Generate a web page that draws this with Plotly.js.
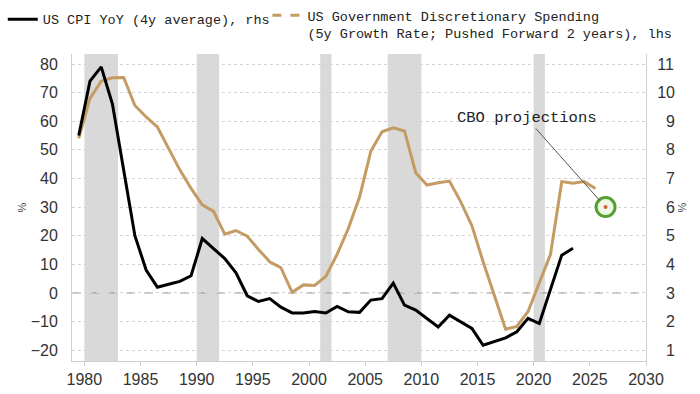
<!DOCTYPE html>
<html>
<head>
<meta charset="utf-8">
<script src="https://cdn.plot.ly/plotly-3.0.1.min.js"></script>
<style>html,body{margin:0;padding:0;background:#fff;}#chart{width:700px;height:394px;}</style>
</head>
<body>
<div id="chart"></div>
<script>
// ---- data ----
const cpiYears = [1979.5,1980.5,1981.5,1982.5,1983.5,1984.5,1985.5,1986.5,1987.5,1988.5,1989.5,
  1990.5,1991.5,1992.5,1993.5,1994.5,1995.5,1996.5,1997.5,1998.5,1999.5,
  2000.5,2001.5,2002.5,2003.5,2004.5,2005.5,2006.5,2007.5,2008.5,2009.5,
  2010.5,2011.5,2012.5,2013.5,2014.5,2015.5,2016.5,2017.5,2018.5,2019.5,
  2020.5,2021.5,2022.5,2023.5];
// US CPI YoY (4y average), %, right-hand scale
const cpiValues = [8.5,10.4,10.9,9.6,7.3,5.0,3.8,3.2,3.3,3.4,3.6,
  4.9,4.55,4.2,3.7,2.9,2.7,2.8,2.5,2.3,2.3,
  2.35,2.3,2.53,2.34,2.32,2.75,2.8,3.34,2.57,2.4,
  2.11,1.81,2.22,1.99,1.76,1.17,1.29,1.43,1.64,2.11,
  1.93,3.16,4.32,4.56];

const spendYears = [1979.5,1980.5,1981.5,1982.5,1983.5,1984.5,1985.5,1986.5,1987.5,1988.5,1989.5,
  1990.5,1991.5,1992.5,1993.5,1994.5,1995.5,1996.5,1997.5,1998.5,1999.5,
  2000.5,2001.5,2002.5,2003.5,2004.5,2005.5,2006.5,2007.5,2008.5,2009.5,
  2010.5,2011.5,2012.5,2013.5,2014.5,2015.5,2016.5,2017.5,2018.5,2019.5,
  2020.5,2021.5,2022.5,2023.5,2024.5,2025.5];
// US Government Discretionary Spending, 5y growth rate, %, left-hand scale
const spendValues = [54,68,74,75.2,75.3,65.5,61.5,58,50.5,43,36.5,
  30.8,28.5,20.5,21.8,19.8,15.2,10.9,8.8,0.2,2.8,
  2.6,5.8,13.5,22.5,33.5,49.5,56.3,57.7,56.6,42,
  37.7,38.5,39.1,31.9,23.5,10.9,-0.8,-12.7,-11.7,-6.5,
  3.5,13.5,38.9,38.3,38.9,36.5];

const cboYear = [2026.4];
const cboValue = [30];

const recessionStart = [1980, 1990, 2001, 2007, 2020];
const recessionEnd   = [1983, 1992, 2002, 2010, 2021];

const leftTicks = [-20,-10,0,10,20,30,40,50,60,70,80];
const rightTicks = [1,2,3,4,5,6,7,8,9,10,11];
const xTicks = [1980,1985,1990,1995,2000,2005,2010,2015,2020,2025,2030];

const cpiName = 'US CPI YoY (4y average), rhs';
const spendName = 'US Government Discretionary Spending<br>(5y Growth Rate; Pushed Forward 2 years), lhs';

// ---- styles ----
const GOLD = '#c49c63';
const mono = 'Liberation Mono, DejaVu Sans Mono, monospace';
const sans = 'Liberation Sans, Arial, sans-serif';

const traces = [
  {x: spendYears, y: spendValues, yaxis: 'y', type: 'scatter', mode: 'lines',
   line: {color: GOLD, width: 3}, showlegend: false, hoverinfo: 'skip'},
  {x: cpiYears, y: cpiValues, yaxis: 'y2', type: 'scatter', mode: 'lines',
   name: cpiName, line: {color: '#000', width: 3}, legend: 'legend'},
  {x: [null], y: [null], yaxis: 'y', type: 'scatter', mode: 'lines',
   name: spendName, line: {color: GOLD, width: 3, dash: 'dash'}, legend: 'legend2'},
  {x: cboYear, y: cboValue, yaxis: 'y', type: 'scatter', mode: 'markers', showlegend: false,
   marker: {size: 19, color: '#eef7e6', line: {color: '#55a030', width: 3}}},
  {x: cboYear, y: cboValue, yaxis: 'y', type: 'scatter', mode: 'markers', showlegend: false,
   marker: {size: 4, color: '#d0663a'}}
];

const shapes = recessionStart.map((s, i) => ({
  type: 'rect', xref: 'x', yref: 'paper', x0: s, x1: recessionEnd[i], y0: 0, y1: 1,
  fillcolor: '#d9d9d9', line: {width: 0}, layer: 'below'
}));
shapes.push({type: 'line', xref: 'paper', yref: 'y', x0: 0, x1: 1, y0: 0, y1: 0,
  line: {color: '#8a8a8a', width: 1, dash: 'dash'}, layer: 'below'});

const legendFont = {family: mono, size: 13.5, color: '#222'};

const layout = {
  width: 700, height: 394,
  margin: {l: 72, r: 54, t: 54, b: 33, pad: 0},
  paper_bgcolor: '#fff', plot_bgcolor: '#fff',
  showlegend: true,
  legend: {orientation: 'h', xref: 'container', yref: 'container', x: 0.004, y: 0.99,
    xanchor: 'left', yanchor: 'top', valign: 'top', font: legendFont, bgcolor: 'rgba(0,0,0,0)'},
  legend2: {orientation: 'h', xref: 'container', yref: 'container', x: 0.382, y: 1,
    xanchor: 'left', yanchor: 'top', valign: 'top', font: legendFont, bgcolor: 'rgba(0,0,0,0)'},
  xaxis: {range: [1978.9, 2030], tickvals: xTicks, showgrid: false, zeroline: false,
    showline: true, linecolor: '#cfcfcf', linewidth: 1, ticks: 'outside', ticklen: 4,
    tickcolor: '#cfcfcf', tickfont: {family: sans, size: 16, color: '#333'}},
  yaxis: {range: [-23.8, 83.5], tickvals: leftTicks, showgrid: true, gridcolor: '#d4d4d4',
    griddash: 'dot', gridwidth: 1, zeroline: false, showline: true, linecolor: '#cfcfcf',
    ticks: '', ticklabelstandoff: 10, tickfont: {family: sans, size: 16, color: '#333'},
    title: {text: '%', font: {family: sans, size: 11, color: '#444'}, standoff: 1}},
  yaxis2: {range: [0.62, 11.35], overlaying: 'y', side: 'right', tickvals: rightTicks,
    ticktext: rightTicks.map(v => v < 10 ? '\u2007' + v : String(v)),
    showgrid: false, zeroline: false, showline: true, linecolor: '#cfcfcf',
    ticks: '', ticklabelstandoff: 7, tickfont: {family: sans, size: 16, color: '#333'},
    title: {text: '%', font: {family: sans, size: 11, color: '#444'}, standoff: 4}},
  shapes: shapes,
  annotations: [{
    x: cboYear[0], y: cboValue[0], xref: 'x', yref: 'y', text: 'CBO projections',
    showarrow: true, arrowhead: 0, arrowwidth: 1, arrowcolor: '#555', ax: -79, ay: -89,
    standoff: 9, font: {family: mono, size: 15.5, color: '#222'}
  }]
};

Plotly.newPlot('chart', traces, layout, {displayModeBar: false, staticPlot: true});
</script>
</body>
</html>
